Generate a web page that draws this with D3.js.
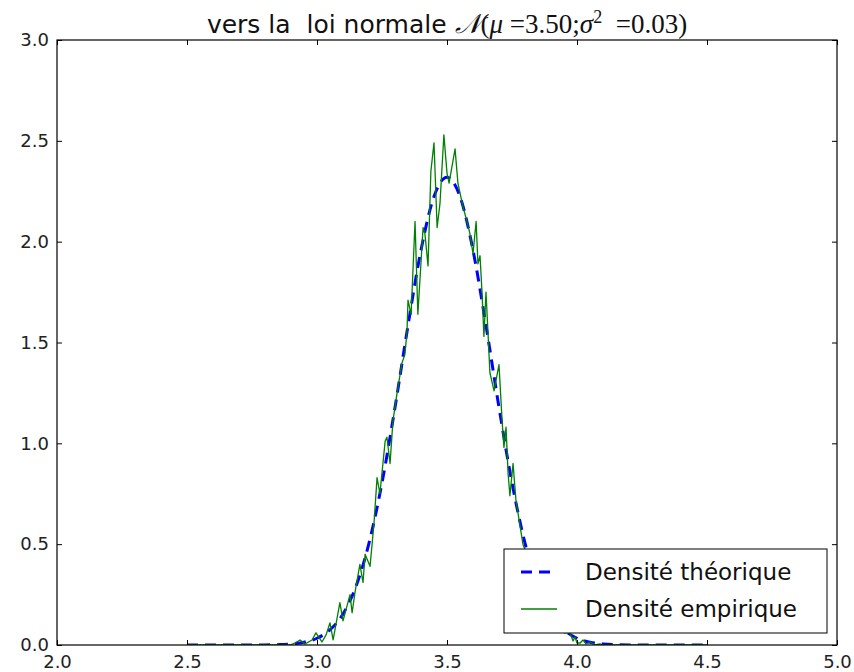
<!DOCTYPE html>
<html><head><meta charset="utf-8">
<script src="https://cdn.jsdelivr.net/npm/d3@7"></script>
<style>body{margin:0;background:#fff}svg text{white-space:pre}</style>
</head><body>
<script>
const xTicks = [2.0, 2.5, 3.0, 3.5, 4.0, 4.5, 5.0];
const yTicks = [0.0, 0.5, 1.0, 1.5, 2.0, 2.5, 3.0];
const seriesNames = ["Densité théorique", "Densité empirique"];

// Theoretical density
const thX = [2.50,2.55,2.60,2.65,2.70,2.75,2.80,2.85,2.90,2.95,3.00,3.05,3.10,3.15,3.20,3.25,3.30,3.35,3.40,3.45,3.50,
             3.55,3.60,3.65,3.70,3.75,3.80,3.85,3.90,3.95,4.00,4.05,4.10,4.15,4.20,4.25,4.30,4.35,4.40,4.45,4.50];
const thY = [0,0,0,0,0.0001,0.0002,0.0006,0.0018,0.0052,0.0138,0.0335,0.075,0.154,0.291,0.505,0.804,1.178,1.584,1.958,2.224,2.32,
             2.224,1.958,1.584,1.178,0.804,0.505,0.291,0.154,0.075,0.0335,0.0138,0.0052,0.0018,0.0006,0.0002,0.0001,0,0,0,0];

const empX = [2.50,2.896,2.915,2.935,2.954,2.981,2.996,3.019,3.035,3.050,3.062,3.088,3.100,3.127,3.135,3.146,3.165,3.177,3.185,3.204,
              3.219,3.231,3.242,3.262,3.269,3.281,3.292,3.308,3.327,3.338,3.346,3.350,3.362,3.377,3.388,3.408,3.415,3.427,3.438,3.450,
              3.462,3.473,3.488,3.500,3.508,3.531,3.542,3.562,3.577,3.588,3.600,3.612,3.619,3.627,3.635,3.642,3.650,3.658,3.665,3.681,
              3.700,3.712,3.719,3.727,3.735,3.742,3.754,3.765,3.792,3.810,3.830,3.850,3.870,3.890,3.910,3.930,3.950,3.973,3.985,3.992,
              4.000,4.012,4.023,4.035,4.050,4.069,4.088,4.10,4.50];
const empY = [0,0,0.01,0.025,0.005,0.025,0.06,0.015,0.05,0.11,0.025,0.21,0.12,0.25,0.16,0.26,0.40,0.31,0.45,0.39,
              0.60,0.83,0.75,1.01,1.03,0.90,1.11,1.25,1.40,1.44,1.55,1.71,1.64,2.10,1.64,2.07,2.04,1.88,2.35,2.49,
              2.07,2.19,2.53,2.34,2.29,2.46,2.29,2.17,2.10,2.04,1.94,2.10,1.89,1.93,1.74,1.53,1.75,1.54,1.35,1.26,
              1.39,1.11,0.98,1.08,0.85,0.74,0.90,0.72,0.50,0.44,0.34,0.28,0.20,0.16,0.11,0.09,0.06,0.06,0.02,0.04,
              0.01,0.01,0.025,0.005,0.015,0,0.005,0,0];

const W = 854, H = 672;
const L = 57, R = 837, T = 40, B = 645;
const svg = d3.select("body").append("svg").attr("width", W).attr("height", H);
const x = d3.scaleLinear().domain([2, 5]).range([L, R]);
const y = d3.scaleLinear().domain([0, 3]).range([B, T]);

svg.append("defs").append("clipPath").attr("id", "clip")
  .append("rect").attr("x", L).attr("y", T).attr("width", R - L).attr("height", B - T);

const g = svg.append("g").attr("clip-path", "url(#clip)");
const th = thX.map((v, i) => [v, thY[i]]);
const em = empX.map((v, i) => [v, empY[i]]);

g.append("path").datum(th)
  .attr("d", d3.line().x(d => x(d[0])).y(d => y(d[1])).curve(d3.curveMonotoneX))
  .attr("fill", "none").attr("stroke", "#0000ff").attr("stroke-width", 3)
  .attr("stroke-dasharray", "11,7");
g.append("path").datum(em)
  .attr("d", d3.line().x(d => x(d[0])).y(d => y(d[1])))
  .attr("fill", "none").attr("stroke", "#008000").attr("stroke-width", 1.3)
  .attr("stroke-linejoin", "round");

// axes (ticks inside, all four sides)
const font = "DejaVu Sans";
const axB = svg.append("g").attr("transform", `translate(0,${B})`)
  .call(d3.axisBottom(x).tickValues(xTicks).tickSizeInner(-5).tickSizeOuter(0).tickPadding(10).tickFormat(d3.format(".1f")));
const axT = svg.append("g").attr("transform", `translate(0,${T})`)
  .call(d3.axisTop(x).tickValues(xTicks).tickSizeInner(-5).tickSizeOuter(0).tickFormat(""));
const axL = svg.append("g").attr("transform", `translate(${L},0)`)
  .call(d3.axisLeft(y).tickValues(yTicks).tickSizeInner(-5).tickSizeOuter(0).tickPadding(8).tickFormat(d3.format(".1f")));
const axR = svg.append("g").attr("transform", `translate(${R},0)`)
  .call(d3.axisRight(y).tickValues(yTicks).tickSizeInner(-5).tickSizeOuter(0).tickFormat(""));
[axB, axT, axL, axR].forEach(a => {
  a.select(".domain").remove();
  a.selectAll("line").attr("stroke", "#000");
  a.selectAll("text").attr("font-family", font).attr("font-size", 18).attr("fill", "#222");
});
svg.append("rect").attr("x", L).attr("y", T).attr("width", R - L).attr("height", B - T)
  .attr("fill", "none").attr("stroke", "#000").attr("stroke-width", 1.2);

// title
const title = svg.append("text").attr("x", (L + R) / 2).attr("y", 33)
  .attr("text-anchor", "middle").attr("font-size", 25).attr("fill", "#111");
title.append("tspan").attr("font-family", font).text("vers la  loi normale ");
const serif = "Liberation Serif";
const ms = 27;
title.append("tspan").attr("font-family", serif).attr("font-size", ms).attr("font-style", "italic").text("𝒩");
title.append("tspan").attr("font-family", serif).attr("font-size", ms).text("(");
title.append("tspan").attr("font-family", serif).attr("font-size", ms).attr("font-style", "italic").text("μ");
title.append("tspan").attr("font-family", serif).attr("font-size", ms).text(" =3.50;");
title.append("tspan").attr("font-family", serif).attr("font-size", ms).attr("font-style", "italic").text("σ");
title.append("tspan").attr("font-family", serif).attr("font-size", 18).attr("dy", -10).text("2");
title.append("tspan").attr("font-family", serif).attr("font-size", ms).attr("dy", 10).text("  =0.03)");

// legend
const lg = svg.append("g");
lg.append("rect").attr("x", 504).attr("y", 549).attr("width", 323).attr("height", 84)
  .attr("fill", "#fff").attr("stroke", "#000").attr("stroke-width", 1);
lg.append("line").attr("x1", 521).attr("x2", 555).attr("y1", 572).attr("y2", 572)
  .attr("stroke", "#0000ff").attr("stroke-width", 3).attr("stroke-dasharray", "11,7");
lg.append("line").attr("x1", 521).attr("x2", 557).attr("y1", 609).attr("y2", 609)
  .attr("stroke", "#008000").attr("stroke-width", 1.3);
seriesNames.forEach((n, i) => {
  lg.append("text").attr("x", 585).attr("y", 572 + i * 37).attr("dy", "0.35em")
    .attr("font-family", font).attr("font-size", 23).attr("fill", "#111").text(n);
});
</script>
</body></html>
